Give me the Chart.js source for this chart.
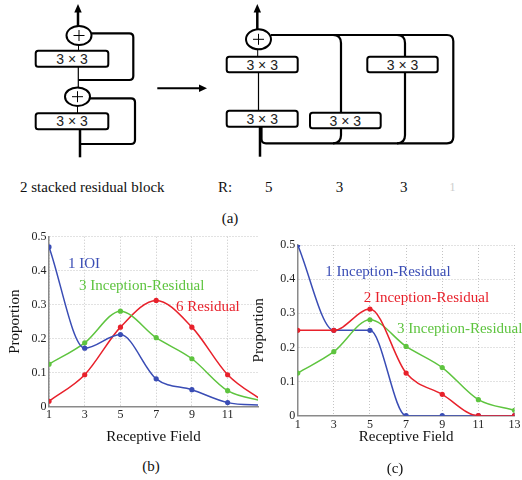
<!DOCTYPE html>
<html><head><meta charset="utf-8">
<script src="https://cdn.jsdelivr.net/npm/chart.js@4"></script>
<style>
html,body{margin:0;padding:0;background:#fff;}
#wrap{position:relative;width:522px;height:480px;overflow:hidden;font-family:"Liberation Serif","Times New Roman",Tinos,"DejaVu Serif","Noto Serif",serif;color:#111;}
.t{position:absolute;white-space:nowrap;font-size:15px;line-height:15px;}
.c{text-align:center;width:40px;}
canvas{position:absolute;}
</style></head><body>
<div id="wrap">
<svg width="522" height="205" style="position:absolute;left:0;top:0" font-family="Liberation Sans, Arial, sans-serif">
 <g fill="none" stroke="#000">
  <line x1="78" y1="27" x2="78" y2="11" stroke-width="2.5"/>
  <path d="M91.5 33.3 H129.3 Q133.3 33.3 133.3 37.3 V76 Q133.3 80 129.3 80 H78.3" stroke-width="2.2"/>
  <ellipse cx="79" cy="35.5" rx="12.5" ry="9.5" stroke-width="2" fill="#fff"/>
  <path d="M73.5 35.5 H84.5 M79 30 V41" stroke-width="1"/>
  <line x1="78.5" y1="45" x2="78.5" y2="51" stroke-width="1"/>
  <line x1="78.3" y1="66.7" x2="78.3" y2="88" stroke-width="1.2"/>
  <path d="M90 98.3 H131 Q135 98.3 135 102.3 V140 Q135 144 131 144 H80" stroke-width="2.2"/>
  <ellipse cx="77.5" cy="96.7" rx="12.5" ry="9.3" stroke-width="2" fill="#fff"/>
  <path d="M72 96.7 H83 M77.5 91.2 V102.2" stroke-width="1"/>
  <line x1="77.5" y1="106" x2="77.5" y2="113.5" stroke-width="1"/>
  <line x1="80" y1="129.3" x2="80" y2="157.3" stroke-width="2.5"/>
  <rect x="35.7" y="50.7" width="72.6" height="16" rx="2.5" stroke-width="2" fill="#fff"/>
  <rect x="35.7" y="113.3" width="72.6" height="16" rx="2.5" stroke-width="2" fill="#fff"/>
  <line x1="157.3" y1="88.3" x2="200" y2="88.3" stroke-width="2"/>
  <line x1="257.3" y1="30" x2="257.3" y2="11" stroke-width="2.5"/>
  <path d="M271 35 H447 Q453.3 35 453.3 41.3 V137 Q453.3 143.3 447 143.3 H266 Q261.5 143.3 261.5 139 V127" stroke-width="2.2"/>
  <path d="M333 35 Q341 35 341 43 V112.7 M341 128.3 V135.3 Q341 143.3 333 143.3" stroke-width="2.2"/>
  <path d="M397 35 Q405 35 405 43 V56.7 M405 72.3 V135.3 Q405 143.3 397 143.3" stroke-width="2.2"/>
  <ellipse cx="258.5" cy="39.3" rx="12.5" ry="10" stroke-width="2" fill="#fff"/>
  <path d="M253 39.3 H264 M258.5 33.8 V44.8" stroke-width="1"/>
  <line x1="257.7" y1="49.3" x2="257.7" y2="57" stroke-width="1"/>
  <line x1="258.5" y1="72.3" x2="258.5" y2="111" stroke-width="1.2"/>
  <line x1="260" y1="126.7" x2="260" y2="156.7" stroke-width="2.5"/>
  <rect x="226.7" y="56.7" width="71" height="15.6" rx="2.5" stroke-width="2" fill="#fff"/>
  <rect x="226.7" y="110.7" width="71" height="16" rx="2.5" stroke-width="2" fill="#fff"/>
  <rect x="310" y="112.7" width="70.7" height="15.6" rx="2.5" stroke-width="2" fill="#fff"/>
  <rect x="367.3" y="56.7" width="70.4" height="15.6" rx="2.5" stroke-width="2" fill="#fff"/>
 </g>
 <g fill="#000" stroke="none">
  <polygon points="78,4 74.3,12.5 81.7,12.5"/>
  <polygon points="257.3,4 253.6,12.5 261,12.5"/>
  <polygon points="207,88.3 199,84.6 199,92"/>
 </g>
 <g fill="#222" font-size="14" text-anchor="middle">
  <text x="72" y="63.7">3 × 3</text>
  <text x="72" y="126.3">3 × 3</text>
  <text x="262.2" y="69.5">3 × 3</text>
  <text x="262.2" y="123.7">3 × 3</text>
  <text x="345.3" y="125.5">3 × 3</text>
  <text x="402.5" y="69.5">3 × 3</text>
 </g>
</svg>
<div class="t" style="left:20px;top:179.7px">2 stacked residual block</div>
<div class="t" style="left:218px;top:179.7px">R:</div>
<div class="t" style="left:265px;top:179.7px">5</div>
<div class="t" style="left:335.7px;top:179.7px">3</div>
<div class="t" style="left:400px;top:179.7px">3</div>
<div class="t" style="left:449.5px;top:179.7px;color:#ccc;font-size:12px">1</div>
<div class="t c" style="left:210px;top:211px">(a)</div>

<canvas id="cb" width="262" height="222" style="left:0;top:225px"></canvas>
<canvas id="cc" width="272" height="225" style="left:250px;top:225px"></canvas>

<div class="t" style="left:68px;top:255.5px;color:#3a4db5">1 IOI</div>
<div class="t" style="left:79px;top:278px;color:#5ec43f">3 Inception-Residual</div>
<div class="t" style="left:176px;top:298.5px;color:#e8212b">6 Residual</div>
<div class="t" style="left:325.3px;top:264px;color:#3a4db5">1 Inception-Residual</div>
<div class="t" style="left:363.7px;top:289.7px;color:#e8212b">2 Inception-Residual</div>
<div class="t" style="left:397px;top:320.7px;color:#5ec43f">3 Inception-Residual</div>
<div class="t c" style="left:131px;top:458.7px">(b)</div>
<div class="t c" style="left:375px;top:461px">(c)</div>
</div>
<script>
// ---- data ----
const yTicks = [0, 0.1, 0.2, 0.3, 0.4, 0.5];
const xTicksB = [1, 3, 5, 7, 9, 11];
const xTicksC = [1, 3, 5, 7, 9, 11, 13];
const fieldB = [1, 3, 5, 7, 9, 11, 13];
const ioi1 = [0.47, 0.172, 0.212, 0.082, 0.05, 0.012, 0.004];
const incRes3B = [0.125, 0.188, 0.281, 0.203, 0.141, 0.047, 0.016];
const res6 = [0.016, 0.094, 0.234, 0.3125, 0.234, 0.094, 0.016];
const fieldC = [1, 3, 5, 7, 9, 11, 13];
const incRes1 = [0.5, 0.25, 0.25, 0, 0, 0, 0];
const incRes2 = [0.25, 0.25, 0.3125, 0.125, 0.0625, 0, 0];
const incRes3C = [0.125, 0.1875, 0.281, 0.203, 0.141, 0.047, 0.0156];

const BLUE = '#3a4db5', RED = '#e8212b', GREEN = '#5ec43f';
const SERIF = "'Liberation Serif','Times New Roman',Tinos,'DejaVu Serif','Noto Serif',serif";

function pts(xs, ys) { return xs.map((x, i) => ({x: x, y: ys[i]})); }
function ds(label, xs, ys, color, order) {
  return {label, data: pts(xs, ys), borderColor: color, backgroundColor: color,
    pointBackgroundColor: color, pointBorderWidth: 0, pointRadius: 2.6,
    borderWidth: 1.5, cubicInterpolationMode: 'monotone', fill: false, order};
}
function opts(cfg) {
  return {
    responsive: false, animation: false,
    layout: {padding: cfg.pad},
    plugins: {legend: {display: false}, tooltip: {enabled: false}},
    scales: {
      x: {type: 'linear', min: 1, max: cfg.xmax,
        afterBuildTicks: s => { s.ticks = cfg.xt.map(v => ({value: v})); },
        afterFit: s => { s.height = cfg.xh; },
        ticks: {padding: cfg.xtp, autoSkip: false, maxRotation: 0, color: '#222', font: {family: SERIF, size: 12}},
        grid: {color: '#c4c4c4', drawTicks: false, lineWidth: 1},
        border: {color: '#8a8a8a', width: 1.5, dash: [1, 2]},
        title: {display: true, text: 'Receptive Field', color: '#111', font: {family: SERIF, size: 15}, padding: {top: 0, bottom: cfg.xtitle}}
      },
      y: {type: 'linear', min: 0, max: 0.5,
        afterBuildTicks: s => { s.ticks = yTicks.map(v => ({value: v})); },
        afterFit: s => { s.width = cfg.yw; },
        ticks: {padding: 2.5, color: '#222', font: {family: SERIF, size: 12}},
        grid: {color: '#c4c4c4', drawTicks: false, lineWidth: 1},
        border: {color: '#8a8a8a', width: 1.5, dash: [1, 2]},
        title: {display: true, text: 'Proportion', color: '#111', font: {family: SERIF, size: 15}, padding: {top: cfg.ytitle, bottom: 0}}
      }
    }
  };
}

new Chart(document.getElementById('cb'), {
  type: 'line',
  data: {datasets: [
    ds('1 IOI', fieldB, ioi1, BLUE, 1),
    ds('3 Inception-Residual', fieldB, incRes3B, GREEN, 2),
    ds('6 Residual', fieldB, res6, RED, 3)
  ]},
  options: opts({pad: {top: 11.7, left: 0, right: 1, bottom: 0}, xmax: 12.7, xt: xTicksB, xh: 40.3, xtp: 1, xtitle: 1.3, yw: 49, ytitle: 6})
});

new Chart(document.getElementById('cc'), {
  type: 'line',
  data: {datasets: [
    ds('1 Inception-Residual', fieldC, incRes1, BLUE, 3),
    ds('2 Inception-Residual', fieldC, incRes2, RED, 1),
    ds('3 Inception-Residual', fieldC, incRes3C, GREEN, 2)
  ]},
  options: opts({pad: {top: 20, left: 0, right: 6.7, bottom: 0}, xmax: 13, xt: xTicksC, xh: 34.3, xtp: 1.5, xtitle: 4.3, yw: 47.7, ytitle: 0})
});
</script>
</body></html>
